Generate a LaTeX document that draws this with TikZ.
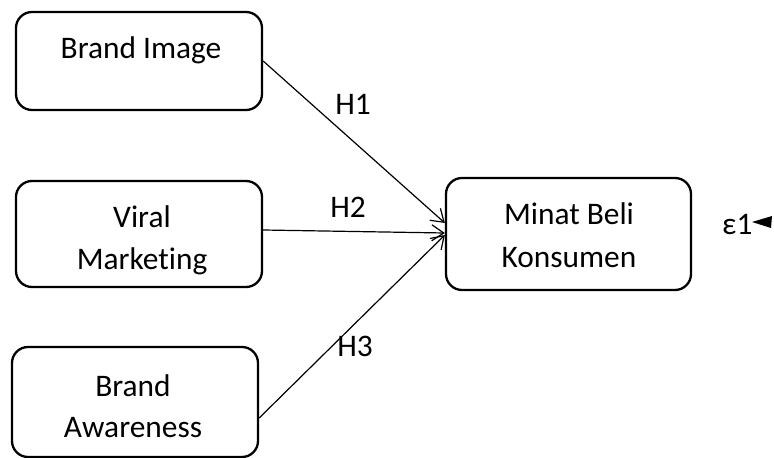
\documentclass[tikz,border=0pt]{standalone}
\usepackage{fontspec}
\setmainfont[Ligatures=NoCommon]{Carlito}
\usetikzlibrary{arrows.meta}
\begin{document}
\begin{tikzpicture}[x=1bp,y=-1bp,
  box/.style={draw, line width=2.3bp, rounded corners=16bp, minimum width=246bp, inner sep=0pt},
  lbl/.style={font=\fontsize{31.5}{42}\selectfont, anchor=base, inner sep=0pt},
  link/.style={line width=1.2bp, -{Straight Barb[length=12bp,width=16bp,line width=1.2bp]}}]
\useasboundingbox (0,0) rectangle (774,458);
% boxes
\node[box, minimum height=98bp] (b1) at (139,61) {};
\node[box, minimum height=106bp] (b2) at (139,234) {};
\node[box, minimum height=110bp] (b3) at (135,402) {};
\node[box, minimum width=245bp, minimum height=112bp] (m) at (568.5,234) {};
% texts
\node[lbl] (t1) at (141,59) {Brand Image};
\node[lbl] (t2a) at (142,228) {Viral};
\node[lbl] (t2b) at (142,270) {Marketing};
\node[lbl] (t3a) at (133,396) {Brand};
\node[lbl] (t3b) at (133,437) {Awareness};
\node[lbl] (tm1) at (569,225) {Minat Beli};
\node[lbl] (tm2) at (569,268) {Konsumen};
% connectors
\draw[link] (b1.east) -- ([yshift=11bp]m.west);
\draw[link] ([yshift=4bp]b2.east) -- ([yshift=1bp]m.west);
\draw[link] ([yshift=-16bp]b3.east) -- ([yshift=-1bp]m.west);
% hypothesis labels
\node[lbl] (h1) at (353,115) {H1};
\node[lbl] (h2) at (348,218) {H2};
\node[lbl] (h3) at (355,357) {H3};
% error term
\node[lbl, anchor=base west] (e1) at (722,235) {ε1};
\fill (752,222) -- (772,216) -- (771,228) -- cycle;
\end{tikzpicture}
\end{document}
